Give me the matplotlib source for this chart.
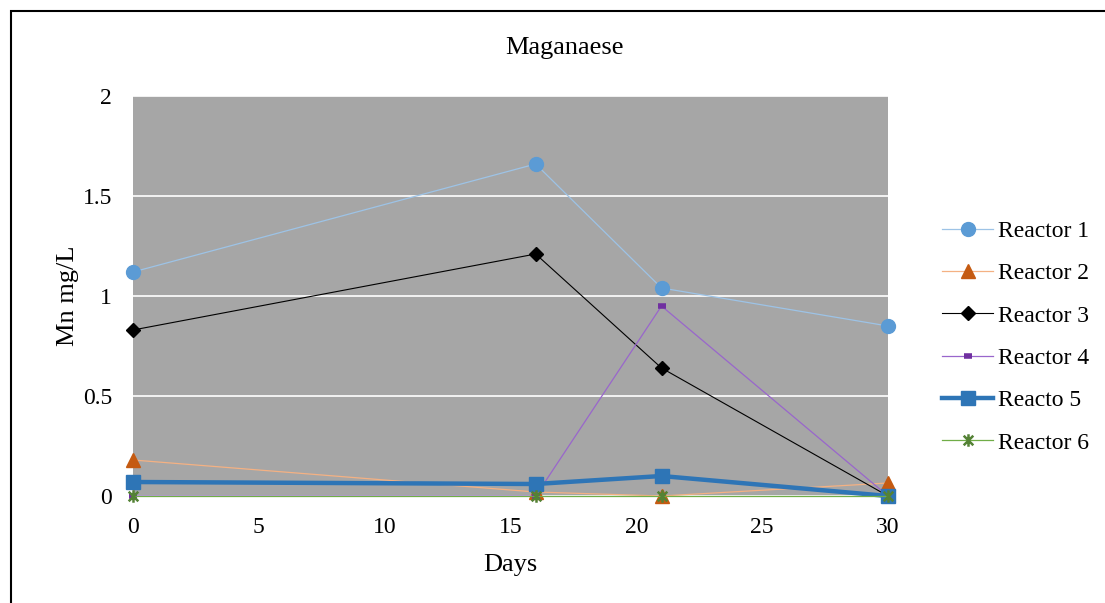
import matplotlib.pyplot as plt
from matplotlib.patches import Rectangle
from matplotlib.path import Path

plt.rcParams['font.family'] = ['Liberation Serif', 'DejaVu Serif']

days = [0, 16, 21, 30]
reactor1 = [1.12, 1.66, 1.04, 0.85]
reactor2 = [0.18, 0.02, 0.0, 0.065]
reactor3 = [0.83, 1.21, 0.64, 0.0]
reactor4 = [0.0, 0.0, 0.95, 0.0]
reactor5 = [0.07, 0.06, 0.10, 0.0]
reactor6 = [0.0, 0.0, 0.0, 0.0]
labels = ['Reactor 1', 'Reactor 2', 'Reactor 3', 'Reactor 4', 'Reacto 5', 'Reactor 6']

# Excel style "x with a bar" marker
star = Path([(-1, -1), (1, 1), (-1, 1), (1, -1), (0, -1.3), (0, 1.3)],
            [Path.MOVETO, Path.LINETO, Path.MOVETO, Path.LINETO, Path.MOVETO, Path.LINETO])

fig = plt.figure(figsize=(11.05, 6.03), dpi=100)
ax = fig.add_axes([133 / 1105, 1 - 496 / 603, 755 / 1105, 400 / 603])
ax.set_facecolor('#A6A6A6')

ax.plot(days, reactor1, color='#9DC3E6', lw=0.9, marker='o', ms=10,
        mfc='#5B9BD5', mec='#5B9BD5', label=labels[0], clip_on=False, zorder=3)
ax.plot(days, reactor2, color='#F4B183', lw=0.9, marker='^', ms=10,
        mfc='#C55A11', mec='#C55A11', label=labels[1], clip_on=False, zorder=3)
ax.plot(days, reactor3, color='black', lw=0.8, marker='D', ms=7,
        mfc='black', mec='black', label=labels[2], clip_on=False, zorder=3)
ax.plot(days, reactor4, color='#9966CC', lw=0.9, marker='_', ms=6, mew=4,
        mfc='#7030A0', mec='#7030A0', label=labels[3], clip_on=False, zorder=3)
ax.plot(days, reactor5, color='#2E75B6', lw=3.2, marker='s', ms=10,
        mfc='#2E75B6', mec='#2E75B6', label=labels[4], clip_on=False, zorder=3)
ax.plot(days, reactor6, color='#70AD47', lw=0.9, marker=star, ms=9, mew=1.8,
        mfc='#548235', mec='#548235', label=labels[5], clip_on=False, zorder=4)

ax.set_xlim(0, 30)
ax.set_ylim(0, 2)
ax.set_xticks([0, 5, 10, 15, 20, 25, 30])
ax.set_yticks([0, 0.5, 1, 1.5, 2])
ax.set_yticklabels(['0', '0.5', '1', '1.5', '2'])
ax.tick_params(length=0, labelsize=17)
ax.tick_params(axis='x', pad=15)
ax.tick_params(axis='y', pad=15)
ax.grid(axis='y', color='white', lw=1.2)
ax.set_axisbelow(True)
for s in ax.spines.values():
    s.set_visible(False)

ax.set_xlabel('Days', fontsize=19, labelpad=12)
ax.set_ylabel('Mn mg/L', fontsize=19, labelpad=3)
fig.text(564 / 1105, 1 - 48 / 603, 'Maganaese', fontsize=19, ha='center', va='center')

fig.legend(loc='center left', bbox_to_anchor=(921 / 1105, 1 - 337 / 603),
           frameon=False, fontsize=17, labelspacing=0.88, handlelength=2.15,
           handletextpad=0.2)

# outer chart border
fig.add_artist(Rectangle((11 / 1105, -0.1), 1.2, 1.1 - 11 / 603, transform=fig.transFigure,
                         fill=False, lw=1.5, ec='black'))

plt.savefig('out.png', dpi=100)
